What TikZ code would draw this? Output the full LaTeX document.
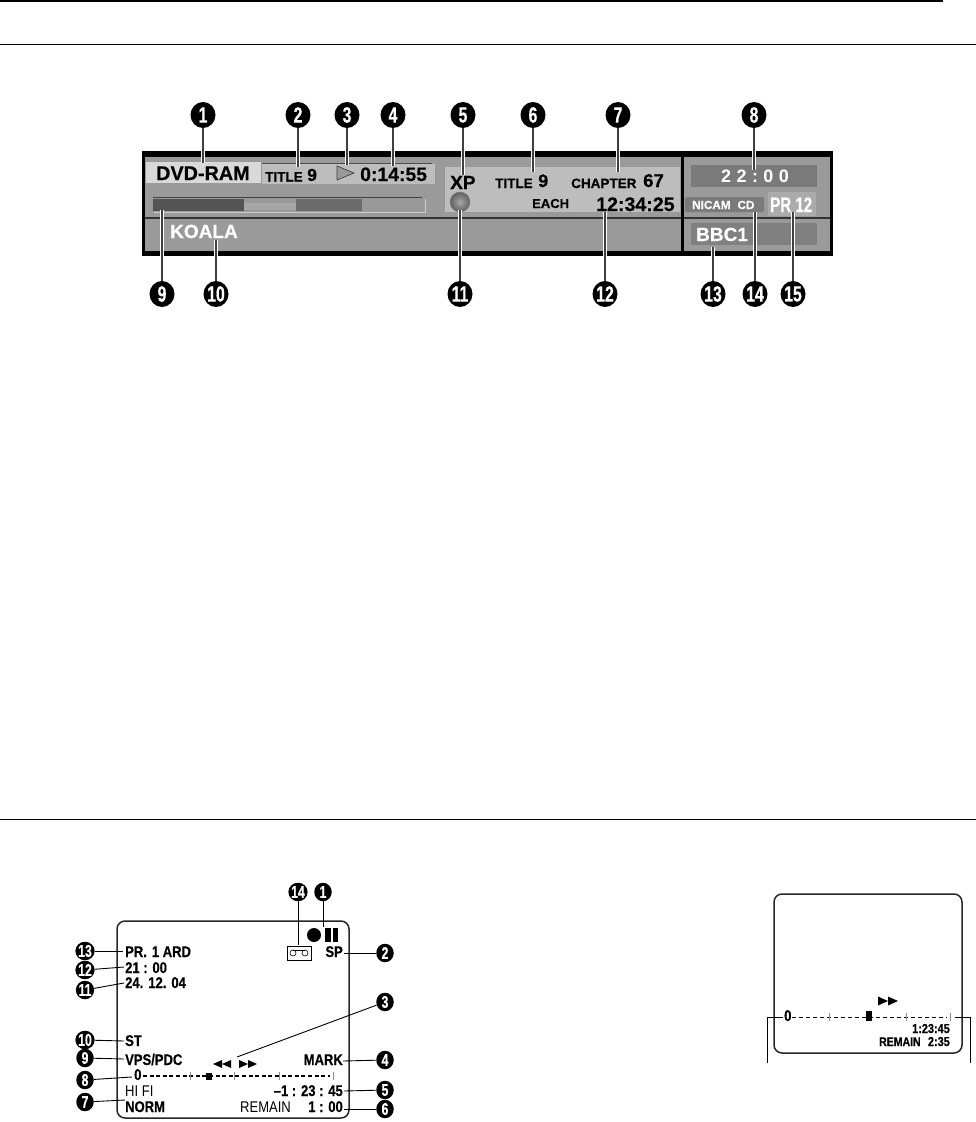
\documentclass[tikz,border=0pt]{standalone}
\usepackage{fontspec}
\setmainfont{Liberation Sans}[BoldFeatures={FakeBold=0.35}]
\newfontfamily\osdfont[FakeStretch=0.84,BoldFeatures={FakeBold=0.35}]{Liberation Sans}
\newfontfamily\badgefont[FakeStretch=0.72,BoldFeatures={FakeBold=0.5}]{Liberation Sans}
\newfontfamily\spacedfont[LetterSpace=30]{Liberation Sans}
\usetikzlibrary{shapes.geometric}
\definecolor{pbg}{HTML}{9A9A9A}
\definecolor{plight}{HTML}{BDBDBD}
\definecolor{pdark}{HTML}{7A7A7A}
\definecolor{lead}{HTML}{404040}
\newcommand{\fsz}[1]{\fontsize{#1}{#1}\selectfont}
\tikzset{
 x=1pt,y=-1pt,
 txt/.style={inner sep=0pt,anchor=base west,font=\fsz{#1}\bfseries},
 osd/.style={inner sep=0pt,anchor=base west,font=\osdfont\fsz{15.5}\bfseries},
 osdr/.style={inner sep=0pt,anchor=base east,font=\osdfont\fsz{15.5}\bfseries},
 osdl/.style={inner sep=0pt,anchor=base west,font=\osdfont\fsz{15.5}},
 bigbadge/.style={ellipse,fill=black,text=white,inner sep=0pt,minimum width=25pt,minimum height=26pt,font=\badgefont\fsz{22}\bfseries},
 smallbadge/.style={ellipse,fill=black,text=white,inner sep=0pt,minimum width=17.5pt,minimum height=18.5pt,font=\badgefont\fsz{17}\bfseries},
 leadtop/.style={draw=lead,line width=2.2pt,preaction={draw=white,line width=4.6pt}},
 leadlow/.style={draw=black,line width=.9pt},
 pagerule/.style={draw=black,line width=.8pt},
 screen/.style={draw=black!85,line width=1.5pt,rounded corners=8pt},
 dashline/.style={draw=black,line width=1.2pt,dash pattern=on 4pt off 2.6pt},
 ticklet/.style={draw=black!45,line width=.5pt},
}
\begin{document}
\begin{tikzpicture}
\useasboundingbox (0,0) rectangle (976,1122);
% page rules
\draw[black,line width=2.2pt] (0,1) -- (943,1);
\draw[pagerule] (0,44) -- (976,44);
\draw[pagerule] (0,819) -- (976,819);

% ---- panel
\fill[black] (142,151) rectangle (833,256);
\fill[pbg] (145,157) rectangle (830,251);
\fill[black!80] (145,217.3) rectangle (830,218.8);
\fill[black] (681,157) rectangle (683.5,251);
\fill[black!15] (146,162) rectangle (261,183);
\fill[plight] (262,164) rectangle (435,184);
\draw[black!70,line width=.6pt] (262,163.5) -- (432,163.5);
\fill[plight] (445,167) rectangle (680,212);
\fill[pdark] (691,165) rectangle (817,187);
\fill[pdark,rounded corners=2pt] (685,197) rectangle (764,212);
\fill[black!33] (768,192) rectangle (816,216);
\fill[black!50] (691,223) rectangle (817,245);
% progress bar
\draw[black!20,line width=1pt] (154,212) -- (425,212) -- (425,199);
\draw[black!75,line width=.6pt] (153,197.5) -- (422,197.5);
\fill[black!40] (153,199) rectangle (424,211);
\fill[black!35] (244,203) rectangle (296,210);
\fill[black!67] (153,199) rectangle (244,211);
\fill[black!58] (296,199) rectangle (362,211);
% indicator lamp
\shade[inner color=black!35,outer color=black!62] (460,202) circle (10);
\draw[black!50,line width=.5pt] (460,202) circle (10);
% play mark
\draw[black!75,fill=pbg,line width=.7pt] (337,166) -- (337,180) -- (354,173) -- cycle;
% panel text
\node[txt=19.8] (t1) at (156,180) {DVD-RAM};
\node[txt=13.5] (t2) at (265,181.5) {TITLE};
\node[txt=17.5] (t3) at (307,181) {9};
\node[txt=19.4] (t4) at (360,181) {0:14:55};
\node[txt=19,text=white] (t5) at (170,238) {KOALA};
\node[txt=19] (t6) at (450,189) {XP};
\node[txt=13.5] (t7) at (495,188) {TITLE};
\node[txt=18] (t8) at (538,187) {9};
\node[txt=13.5] (t9) at (571,188) {CHAPTER};
\node[txt=18.5] (t10) at (643,187) {67};
\node[txt=13] (t11) at (532,208) {EACH};
\node[txt=19.6] (t12) at (596,211) {12:34:25};
\node[inner sep=0pt,anchor=base west,text=white,font=\spacedfont\fsz{18}\bfseries] (t13) at (721,182) {22:00};
\node[txt=11.7,text=white] (t14) at (692,209) {NICAM\hspace{7pt}CD};
\node[inner sep=0pt,anchor=base west,text=white,font=\badgefont\fsz{21}\bfseries] (t15) at (770,212) {PR 12};
\node[txt=19,text=white] (t16) at (696,241) {BBC1};
% panel call-outs
\foreach \n/\x/\y in {1/203/115,2/298/115,3/347/115,4/393/115,5/463/115,6/533/115,7/618/115,8/754/115,
  9/162/294,10/216/294,11/460/294,12/605/294,13/713/294,14/755/294,15/793/294}
  \node[bigbadge] (n\n) at (\x,\y) {\n};
\foreach \n/\x/\y in {1/203/163,2/298/167,3/347/165,4/393/166,5/463/175,6/533/172,7/618/172,8/754/170,
  9/162/210,10/216/240,11/460/210,12/605/212,13/713/247,14/755/212,15/793/212}{
  \coordinate (e\n) at (\x,\y);
  \draw[leadtop] (n\n) -- (e\n);
}

% ---- left screen
\draw[screen] (117,921) rectangle (349,1118);
\node[osd] (a1) at (125,957) {PR.\hspace{5pt}1 ARD};
\node[osd] (a2) at (125,973) {21 : 00};
\node[osd] (a3) at (125,988) {24.\hspace{5pt}12.\hspace{5pt}04};
\node[osd] (a4) at (125,1046) {ST};
\node[osd] (a5) at (125,1065) {VPS/PDC};
\node[osd] (a6) at (134,1080) {0};
\node[osdl] (a7) at (125,1096) {HI FI};
\node[osd] (a8) at (125,1112) {NORM};
\node[osdr] (a9) at (343,957) {SP};
\node[osdr] (a10) at (343,1065) {MARK};
\node[osdr] (a11) at (343,1096) {–1 : 23 : 45};
\node[osdr] (a12) at (343,1112) {1 : 00};
\node[osdl] (a13) at (240,1112) {REMAIN};
\fill[black] (314,935) circle (7);
\fill[black] (325,928) rectangle (331,942);
\fill[black] (333,928) rectangle (338,942);
\draw[black,line width=.8pt] (287,946) rectangle (311,960);
\draw[black,line width=.6pt] (293,953) circle (3);
\draw[black,line width=.6pt] (305,953) circle (3);
\draw[black,line width=.6pt] (293,950) -- (305,950);
\fill[black] (213,1064) -- (222,1060) -- (222,1068) -- cycle;
\fill[black] (222,1064) -- (231,1060) -- (231,1068) -- cycle;
\fill[black] (239,1060) -- (248,1064) -- (239,1068) -- cycle;
\fill[black] (248,1060) -- (257,1064) -- (248,1068) -- cycle;
\draw[dashline] (143,1076) -- (330,1076);
\foreach \x in {190,234,279,333}{
  \draw[ticklet] (\x,1072) -- (\x,1080);
}
\fill[black] (206,1073) rectangle (212,1079.5);
\foreach \n/\x/\y/\ex/\ey in {13/85/951/123/951,12/85/970/124/967,11/85/990/124/983,10/85/1040/124/1041,
  9/85/1058/124/1059,8/85/1080/132/1077,7/85/1102/125/1100,14/298/892/298/945,1/323/892/323/927,
  2/385/953/344/953,3/385/1002/237/1057,4/385/1060/343/1061,5/385/1090/344/1091,6/385/1109/344/1109}{
  \node[smallbadge] (m\n) at (\x,\y) {\n};
  \coordinate (f\n) at (\ex,\ey);
  \draw[leadlow] (m\n) -- (f\n);
}

% ---- right screen
\draw[screen] (774,894) rectangle (962,1053);
\fill[black] (878,996.5) -- (888,1001) -- (878,1005.5) -- cycle;
\fill[black] (888,996.5) -- (898,1001) -- (888,1005.5) -- cycle;
\node[osd] (b1) at (784,1021) {0};
\draw[black,line width=.9pt,dash pattern=on 4pt off 3pt] (792,1017) -- (947,1017);
\foreach \x in {829,906,950}{
  \draw[ticklet] (\x,1013) -- (\x,1021);
}
\fill[black] (866,1011) rectangle (872,1021);
\node[inner sep=0pt,anchor=base east,font=\osdfont\fsz{13}\bfseries] (b2) at (950,1033) {1:23:45};
\node[inner sep=0pt,anchor=base east,font=\osdfont\fsz{13}\bfseries] (b3) at (950,1046) {2:35};
\node[inner sep=0pt,anchor=base west,font=\osdfont\fsz{12.5}\bfseries] (b4) at (879,1046) {REMAIN};
\coordinate (g1) at (767,1063);
\coordinate (g2) at (783,1017);
\coordinate (g3) at (970,1063);
\coordinate (g4) at (955,1017);
\draw[leadlow] (g1) |- (g2);
\draw[leadlow] (g3) |- (g4);
\end{tikzpicture}
\end{document}
